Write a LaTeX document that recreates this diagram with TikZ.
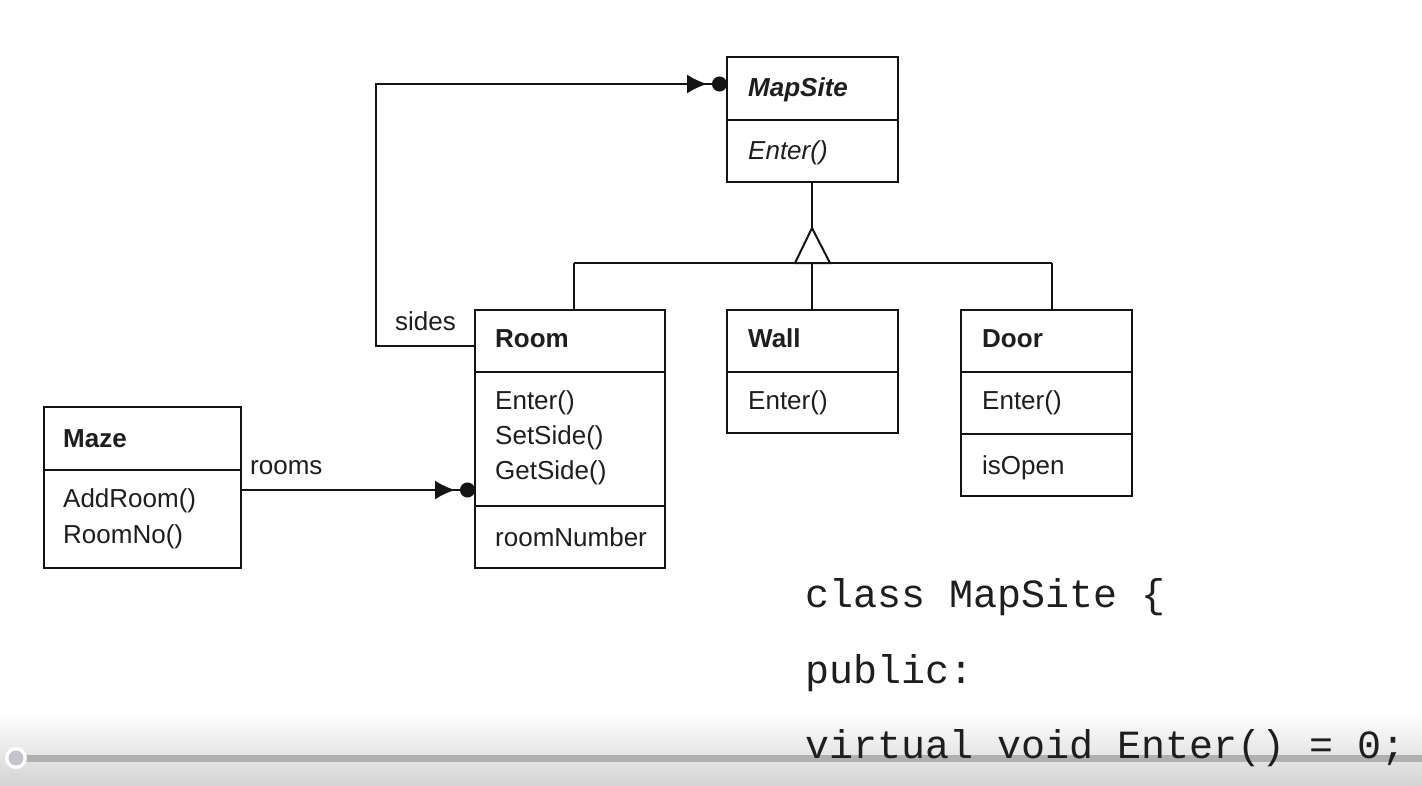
\documentclass[tikz,border=0pt]{standalone}
\usepackage{fontspec}
\setmainfont{Liberation Sans}
\newfontfamily\codefont{Liberation Mono}
\usetikzlibrary{arrows.meta}
\definecolor{ink}{RGB}{20,20,20}
\definecolor{txt}{RGB}{30,30,30}
\definecolor{barbot}{RGB}{212,212,212}
\definecolor{bargrey}{RGB}{176,176,176}
\definecolor{knob}{RGB}{196,196,208}
\begin{document}
\begin{tikzpicture}[x=1pt,y=-1pt,
  box/.style={draw=ink, line width=2pt, inner sep=0pt, outer sep=0pt, anchor=north west},
  lbl/.style={anchor=base west, inner sep=0pt, text=txt, font=\fontsize{26}{30}\selectfont},
  ttl/.style={lbl, font=\fontsize{26}{30}\selectfont\bfseries},
  divider/.style={draw=ink, line width=2pt},
  conn/.style={draw=ink, line width=2pt},
  agg/.style={conn, -{Latex[length=20pt,width=19pt,sep=5pt] Circle[length=15pt]}},
  code/.style={anchor=base west, inner sep=0pt, text=txt, font=\codefont\fontsize{40}{44}\selectfont}]
\useasboundingbox (0,0) rectangle (1422,785);
\fill[white] (0,0) rectangle (1422,785);

% bottom player bar
\shade[top color=white, bottom color=barbot] (0,712) rectangle (1422,785);
\fill[bargrey] (26,755) rectangle (1422,762);
\fill[white] (16,758) circle (11);
\fill[knob] (16,758) circle (7.5);

% boxes
\node[box, minimum width=171pt, minimum height=125pt] (mapsite) at (727,57) {};
\node[box, minimum width=190pt, minimum height=258pt] (room) at (475,310) {};
\node[box, minimum width=171pt, minimum height=123pt] (wall) at (727,310) {};
\node[box, minimum width=171pt, minimum height=186pt] (door) at (961,310) {};
\node[box, minimum width=197pt, minimum height=161pt] (maze) at (44,407) {};

% dividers
\draw[divider] (727,120) -- (898,120);
\draw[divider] (475,372) -- (665,372);
\draw[divider] (475,506) -- (665,506);
\draw[divider] (727,372) -- (898,372);
\draw[divider] (961,372) -- (1132,372);
\draw[divider] (961,434) -- (1132,434);
\draw[divider] (44,470) -- (241,470);

% texts
\node[ttl] (tMapSite) at (748,96) {\itshape MapSite};
\node[lbl] (mMapSite) at (748,159) {\itshape Enter()};
\node[ttl] (tRoom) at (495,347) {Room};
\node[lbl] (mRoom1) at (495,409) {Enter()};
\node[lbl] (mRoom2) at (495,444) {SetSide()};
\node[lbl] (mRoom3) at (495,479) {GetSide()};
\node[lbl] (aRoom) at (495,546) {roomNumber};
\node[ttl] (tWall) at (748,347) {Wall};
\node[lbl] (mWall) at (748,409) {Enter()};
\node[ttl] (tDoor) at (982,347) {Door};
\node[lbl] (mDoor) at (982,409) {Enter()};
\node[lbl] (aDoor) at (982,474) {isOpen};
\node[ttl] (tMaze) at (63,447) {Maze};
\node[lbl] (mMaze1) at (63,507) {AddRoom()};
\node[lbl] (mMaze2) at (63,543) {RoomNo()};
\node[lbl] (lsides) at (395,330) {sides};
\node[lbl] (lrooms) at (250,474) {rooms};

% inheritance
\coordinate (apex) at (812,228);
\coordinate (tl) at (795,263);
\coordinate (tr) at (830,263);
\coordinate (busL) at (574,263);
\coordinate (busM) at (812,263);
\coordinate (busR) at (1052,263);
\draw[conn] (busL) -- (busR);
\draw[conn] (busL) -- (busL |- room.north);
\draw[conn] (busM) -- (busM |- wall.north);
\draw[conn] (busR) -- (busR |- door.north);
\draw[conn] (mapsite.south -| apex) -- (apex);
\draw[conn, fill=white, line join=miter] (apex) -- (tl) -- (tr) -- cycle;

% aggregations
\coordinate (s1) at (376,346);
\coordinate (s2) at (376,84);
\draw[agg] (room.west |- s1) -- (s1) -- (s2) -- (mapsite.west |- s2);
\coordinate (r1) at (241,490);
\draw[agg] (maze.east |- r1) -- (room.west |- r1);

% code
\node[code] (c1) at (805,607) {class MapSite \{};
\node[code] (c2) at (805,683) {public:};
\node[code] (c3) at (805,758) {virtual void Enter() = 0;};
\end{tikzpicture}
\end{document}
